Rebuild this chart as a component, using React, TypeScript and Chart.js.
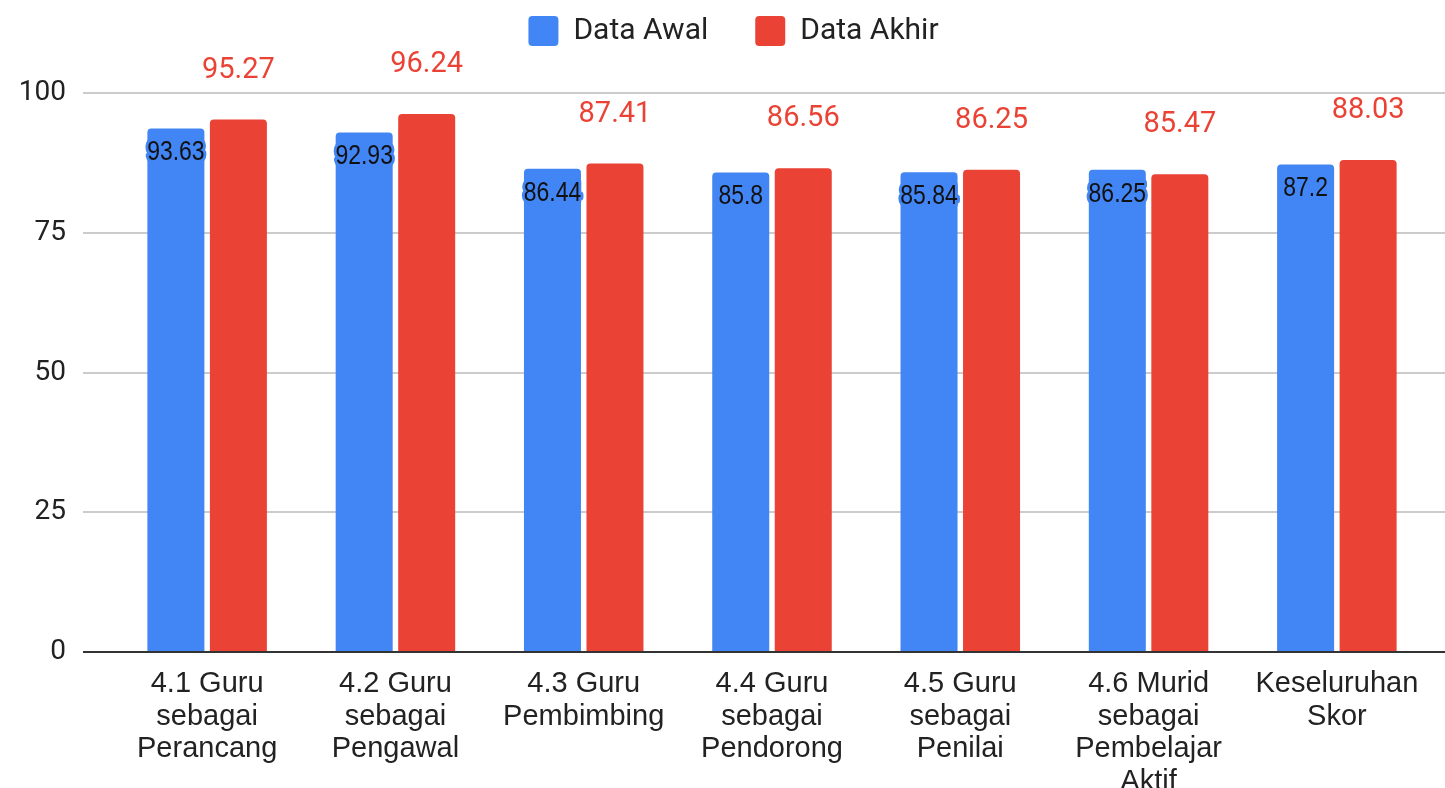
import React, { useEffect, useRef } from 'react';
import { Chart, registerables } from 'chart.js';

Chart.register(...registerables);

const categories: string[][] = [
  ['4.1 Guru', 'sebagai', 'Perancang'],
  ['4.2 Guru', 'sebagai', 'Pengawal'],
  ['4.3 Guru', 'Pembimbing'],
  ['4.4 Guru', 'sebagai', 'Pendorong'],
  ['4.5 Guru', 'sebagai', 'Penilai'],
  ['4.6 Murid', 'sebagai', 'Pembelajar', 'Aktif'],
  ['Keseluruhan', 'Skor'],
];
const dataAwal = [93.63, 92.93, 86.44, 85.8, 85.84, 86.25, 87.2];
const dataAkhir = [95.27, 96.24, 87.41, 86.56, 86.25, 85.47, 88.03];
const yTicks = [0, 25, 50, 75, 100];
const seriesNames = ['Data Awal', 'Data Akhir'];

const BLUE = '#4285F4';
const RED = '#EA4335';

const gridPlugin = {
  id: 'fullGrid',
  beforeDatasetsDraw(chart: any) {
    const { ctx } = chart;
    const y = chart.scales.y;
    ctx.save();
    yTicks.forEach((v) => {
      if (v === 0) return;
      const py = Math.round(y.getPixelForValue(v));
      ctx.beginPath();
      ctx.moveTo(83, py);
      ctx.lineTo(chart.width, py);
      ctx.lineWidth = 2;
      ctx.strokeStyle = '#cccccc';
      ctx.stroke();
    });
    ctx.restore();
  },
  afterDatasetsDraw(chart: any) {
    const { ctx } = chart;
    const y = chart.scales.y;
    const py = Math.round(y.getPixelForValue(0));
    ctx.save();
    ctx.beginPath();
    ctx.moveTo(83, py);
    ctx.lineTo(chart.width, py);
    ctx.lineWidth = 2;
    ctx.strokeStyle = '#333333';
    ctx.stroke();
    ctx.restore();
  },
};

const labelPlugin = {
  id: 'valueLabels',
  afterDatasetsDraw(chart: any) {
    const { ctx } = chart;
    ctx.save();
    ctx.textAlign = 'center';
    ctx.textBaseline = 'middle';
    chart.getDatasetMeta(0).data.forEach((bar: any, i: number) => {
      const t = String(dataAwal[i]);
      ctx.save();
      ctx.translate(bar.x, bar.y + 24);
      ctx.scale(0.82, 1);
      ctx.font = '28px "Liberation Sans", Arial, sans-serif';
      ctx.lineWidth = 7;
      ctx.lineJoin = 'round';
      ctx.strokeStyle = BLUE;
      ctx.strokeText(t, 0, 0);
      ctx.fillStyle = '#111111';
      ctx.fillText(t, 0, 0);
      ctx.restore();
    });
    chart.getDatasetMeta(1).data.forEach((bar: any, i: number) => {
      const t = String(dataAkhir[i]);
      ctx.font = '29px Roboto, "Liberation Sans", sans-serif';
      ctx.fillStyle = RED;
      ctx.fillText(t, bar.x, bar.y - 49);
    });
    ctx.restore();
  },
};

const legendPatch = {
  id: 'legendPatch',
  beforeLayout(chart: any) {
    const lg = chart.legend;
    if (lg && !lg.__patched) {
      lg.__patched = true;
      const origFit = lg.fit;
      lg.fit = function () {
        origFit.call(this);
        this.height = 93;
      };
      const origDraw = lg.draw;
      lg.draw = function () {
        const c = this.ctx;
        c.save();
        c.translate(18, -31);
        origDraw.call(this);
        c.restore();
      };
    }
  },
};

export default function App() {
  const ref = useRef<HTMLCanvasElement | null>(null);
  useEffect(() => {
    if (!ref.current) return;
    const chart = new Chart(ref.current, {
      type: 'bar',
      data: {
        labels: categories,
        datasets: [
          {
            label: seriesNames[0],
            data: dataAwal,
            backgroundColor: BLUE,
            borderRadius: { topLeft: 4, topRight: 4, bottomLeft: 0, bottomRight: 0 },
            borderSkipped: false,
            categoryPercentage: 0.664,
            barPercentage: 0.912,
          },
          {
            label: seriesNames[1],
            data: dataAkhir,
            backgroundColor: RED,
            borderRadius: { topLeft: 4, topRight: 4, bottomLeft: 0, bottomRight: 0 },
            borderSkipped: false,
            categoryPercentage: 0.664,
            barPercentage: 0.912,
          },
        ],
      },
      options: {
        animation: false,
        responsive: true,
        maintainAspectRatio: false,
        layout: { padding: { left: 0, right: 14, top: 0, bottom: 0 } },
        plugins: {
          tooltip: { enabled: false },
          legend: {
            position: 'top',
            labels: {
              boxWidth: 30,
              boxHeight: 30,
              padding: 47,
              useBorderRadius: true,
              borderRadius: 4,
              color: '#222222',
              font: { family: 'Roboto, "Liberation Sans", sans-serif', size: 30 },
            },
          },
        },
        scales: {
          x: {
            grid: { display: false, drawTicks: false },
            border: { display: false },
            ticks: {
              color: '#222222',
              padding: 16,
              maxRotation: 0,
              autoSkip: false,
              font: { family: '"Liberation Sans", Arial, sans-serif', size: 29, lineHeight: 1.12 },
            },
            afterFit: (scale: any) => {
              scale.height = 136;
            },
          },
          y: {
            min: 0,
            max: 100,
            grid: { display: false, drawTicks: false },
            border: { display: false },
            ticks: {
              stepSize: 25,
              color: '#222222',
              padding: 47,
              font: { family: 'Roboto, "Liberation Sans", sans-serif', size: 28 },
            },
            afterFit: (scale: any) => {
              scale.width = 113;
            },
          },
        },
      },
      plugins: [gridPlugin, labelPlugin, legendPatch],
    } as any);
    return () => chart.destroy();
  }, []);
  return (
    <div style={{ position: 'fixed', left: 0, top: 0, width: 1445, height: 788, background: '#fff' }}>
      <canvas ref={ref} />
    </div>
  );
}
